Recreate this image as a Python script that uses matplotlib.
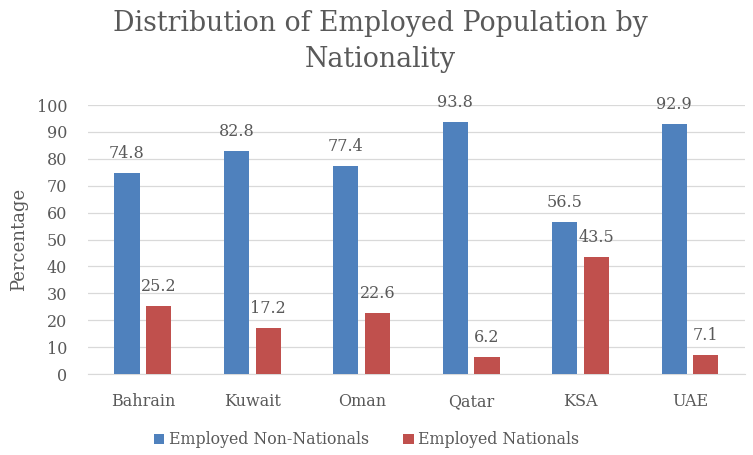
import numpy as np
import matplotlib
matplotlib.use("Agg")
from matplotlib import pyplot as plt

# Chart data
countries = ['Bahrain', 'Kuwait', 'Oman', 'Qatar', 'KSA', 'UAE']
non_nationals = [74.8, 82.8, 77.4, 93.8, 56.5, 92.9]
nationals = [25.2, 17.2, 22.6, 6.2, 43.5, 7.1]

blue = '#4F81BD'
red = '#C0504D'
text_col = '#595959'

plt.rcParams['font.family'] = ['DejaVu Serif']

fig = plt.figure(figsize=(7.53, 4.55), dpi=100)
ax = fig.add_axes([0.117, 0.178, 0.872, 0.591])

x = np.arange(len(countries))
w = 0.23
gap = 0.03
b1 = ax.bar(x - w / 2 - gap, non_nationals, w, color=blue,
            label='Employed Non-Nationals', zorder=3)
b2 = ax.bar(x + w / 2 + gap, nationals, w, color=red,
            label='Employed Nationals', zorder=3)

for bars, vals in ((b1, non_nationals), (b2, nationals)):
    for rect, v in zip(bars, vals):
        ax.annotate(f'{v:.1f}', (rect.get_x() + rect.get_width() / 2, v),
                    xytext=(0, 8), textcoords='offset points',
                    ha='center', va='bottom', fontsize=11.5, color=text_col)

ax.set_xlim(-0.5, len(countries) - 0.5)
ax.set_ylim(0, 100)
ax.set_yticks(np.arange(0, 101, 10))
ax.set_xticks(x)
ax.set_xticklabels(countries)
ax.tick_params(axis='both', length=0, labelsize=11.5, colors=text_col)
ax.tick_params(axis='y', pad=15)
ax.tick_params(axis='x', pad=14)
ax.grid(axis='y', color='#D9D9D9', linewidth=0.9, zorder=0)
for s in ('top', 'right', 'left'):
    ax.spines[s].set_visible(False)
ax.spines['bottom'].set_color('#D9D9D9')
ax.set_ylabel('Percentage', fontsize=13, color=text_col, labelpad=6)

fig.text(0.505, 1 - 10 / 455, 'Distribution of Employed Population by\nNationality',
         ha='center', va='top', fontsize=19.3, color=text_col, linespacing=1.45)

leg = fig.legend(loc='center', bbox_to_anchor=(0.487, 0.033), ncol=2,
                 frameon=False, fontsize=11.3, handlelength=0.65,
                 handleheight=0.65, handletextpad=0.3, columnspacing=2.2)
for t in leg.get_texts():
    t.set_color(text_col)

plt.savefig('out.png', dpi=100)
